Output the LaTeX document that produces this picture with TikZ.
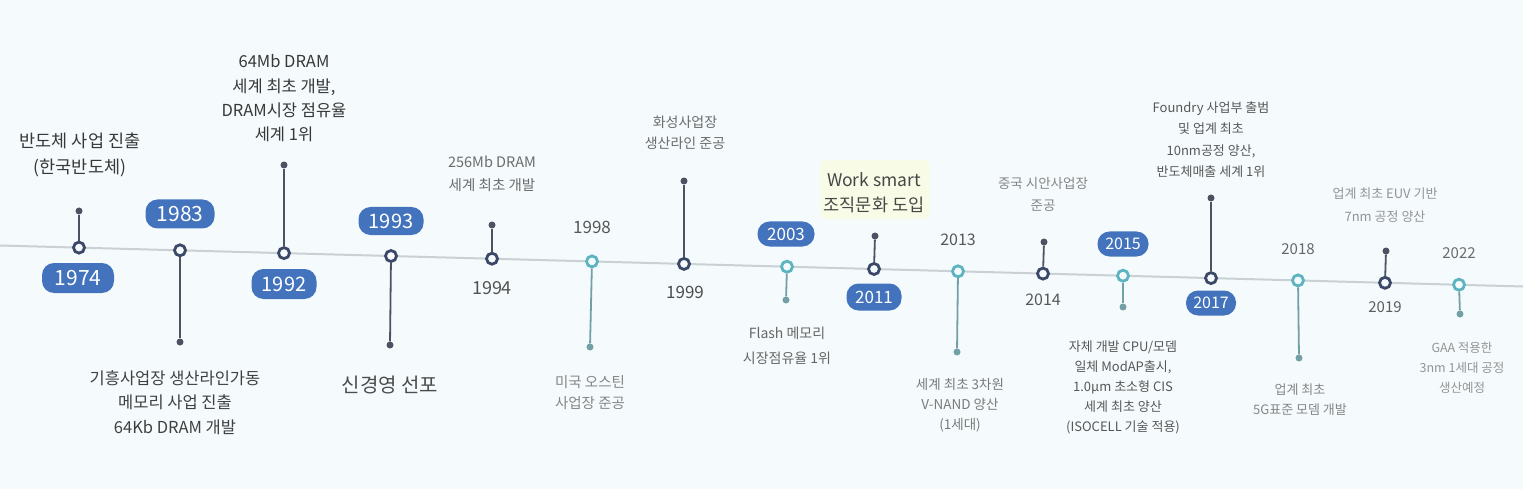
\documentclass[tikz,border=0pt]{standalone}
\usepackage{fontspec}
\setmainfont{Noto Sans CJK KR}
\newcommand\fsz[2]{\fontsize{#1}{#2}\selectfont}
\definecolor{cBg}{HTML}{F5FBFD}
\definecolor{cAxis}{HTML}{C9D1D5}
\definecolor{cNavy}{HTML}{3C4867}
\definecolor{cTeal}{HTML}{5DB3BF}
\definecolor{cBadge}{HTML}{4273BC}
\definecolor{cStemN}{HTML}{4C5262}
\definecolor{cStemT}{HTML}{73A0A6}
\definecolor{cHi}{HTML}{F8FBE6}
\tikzset{
  axisline/.style={draw=cAxis, line width=2pt},
  navyc/.style={circle, draw=cNavy, line width=2.8pt, fill=cBg, minimum size=11pt, inner sep=0pt},
  tealc/.style={circle, draw=cTeal, line width=2.8pt, fill=cBg, minimum size=11pt, inner sep=0pt},
  tipdot/.style={circle, fill=#1, minimum size=7pt, inner sep=0pt},
  stemline/.style={draw=#1, line width=1.8pt},
  badge/.style={rectangle, rounded corners=12pt, fill=cBadge, text=white, inner sep=0pt},
  lbl/.style={align=center, inner sep=0pt},
  yr/.style={inner sep=0pt},
}
\begin{document}
\begin{tikzpicture}[x=1pt,y=-1pt]
\useasboundingbox (0,0) rectangle (1523,489);
\fill[cBg] (0,0) rectangle (1523,489);
\fill[cHi, rounded corners=6pt] (820,160) rectangle (930,219);
\coordinate (L) at (0,245.5);
\coordinate (R) at (1523,286.5);
\draw[axisline] (L) -- (R);

% 1974
\node[tipdot=cStemN] (d74) at (79,211) {};
\node[navyc] (c74) at (79,247.6) {};
\draw[stemline=cStemN] (c74) -- (d74);
\node[badge, minimum width=72pt, minimum height=30pt, font=\fsz{21}{25}] (b74) at (78,278) {1974};
\node[lbl, font=\fsz{17.5}{26}, text=black!78] (t74) at (80,155) {반도체 사업 진출\\(한국반도체)};

% 1983
\node[tipdot=cStemN] (d83) at (180,342) {};
\node[navyc] (c83) at (180,250.3) {};
\draw[stemline=cStemN] (c83) -- (d83);
\node[badge, minimum width=69pt, minimum height=29pt, font=\fsz{21}{25}] (b83) at (180,214) {1983};
\node[lbl, font=\fsz{16.5}{24.5}, text=black!75] (t83) at (175,402.5) {기흥사업장 생산라인가동\\메모리 사업 진출\\64Kb DRAM 개발};

% 1992
\node[tipdot=cStemN] (d92) at (284,165) {};
\node[navyc] (c92) at (284,253.1) {};
\draw[stemline=cStemN] (c92) -- (d92);
\node[badge, minimum width=65pt, minimum height=30pt, font=\fsz{20}{24}] (b92) at (284,284) {1992};
\node[lbl, font=\fsz{16.5}{24.3}, text=black!78] (t92) at (284,98.5) {64Mb DRAM\\세계 최초 개발,\\DRAM시장 점유율\\세계 1위};

% 1993
\node[tipdot=cStemN] (d93) at (390,345) {};
\node[navyc] (c93) at (391,256) {};
\draw[stemline=cStemN] (c93) -- (d93);
\node[badge, minimum width=65pt, minimum height=28pt, font=\fsz{20}{24}] (b93) at (391,221) {1993};
\node[lbl, font=\fsz{20}{24}, text=black!70] (t93) at (390,385) {신경영 선포};

% 1994
\node[tipdot=cStemN] (d94) at (492,225) {};
\node[navyc] (c94) at (492,258.7) {};
\draw[stemline=cStemN] (c94) -- (d94);
\node[yr, font=\fsz{18}{22}, text=black!68] (y94) at (492,288) {1994};
\node[lbl, font=\fsz{14.5}{23}, text=black!58] (t94) at (492,173.5) {256Mb DRAM\\세계 최초 개발};

% 1998
\node[tipdot=cStemT] (d98) at (590,347) {};
\node[tealc] (c98) at (592,261.4) {};
\draw[stemline=cStemT] (c98) -- (d98);
\node[yr, font=\fsz{17}{21}, text=black!66] (y98) at (592,227) {1998};
\node[lbl, font=\fsz{14.5}{21}, text=black!48] (t98) at (590,392.5) {미국 오스틴\\사업장 준공};

% 1999
\node[tipdot=cStemN] (d99) at (684,181) {};
\node[navyc] (c99) at (684,263.9) {};
\draw[stemline=cStemN] (c99) -- (d99);
\node[yr, font=\fsz{17}{21}, text=black!70] (y99) at (685,292) {1999};
\node[lbl, font=\fsz{14}{21}, text=black!58] (t99) at (685,132.5) {화성사업장\\생산라인 준공};

% 2003
\node[tipdot=cStemT] (d03) at (786,300) {};
\node[tealc] (c03) at (787,266.7) {};
\draw[stemline=cStemT] (c03) -- (d03);
\node[badge, minimum width=57pt, minimum height=25pt, font=\fsz{17}{21}] (b03) at (786,234) {2003};
\node[lbl, font=\fsz{14}{25}, text=black!60] (t03) at (787,345.5) {Flash 메모리\\시장점유율 1위};

% 2011
\node[tipdot=cStemN] (d11) at (875,236) {};
\node[navyc] (c11) at (874,269) {};
\draw[stemline=cStemN] (c11) -- (d11);
\node[badge, minimum width=55pt, minimum height=27pt, font=\fsz{17}{21}] (b11) at (874,297) {2011};
\node[lbl, font=\fsz{17.5}{25.5}, text=black!72] (t11) at (874,192.5) {Work smart\\조직문화 도입};

% 2013
\node[tipdot=cStemT] (d13) at (957,352) {};
\node[tealc] (c13) at (958,271.3) {};
\draw[stemline=cStemT] (c13) -- (d13);
\node[yr, font=\fsz{16}{20}, text=black!66] (y13) at (958,240) {2013};
\node[lbl, font=\fsz{13.5}{20}, text=black!52] (t13) at (960,405) {세계 최초 3차원\\V-NAND 양산\\(1세대)};

% 2014
\node[tipdot=cStemN] (d14) at (1044,242) {};
\node[navyc] (c14) at (1043,273.6) {};
\draw[stemline=cStemN] (c14) -- (d14);
\node[yr, font=\fsz{16}{20}, text=black!66] (y14) at (1043,300) {2014};
\node[lbl, font=\fsz{13.5}{22}, text=black!48] (t14) at (1043,194) {중국 시안사업장\\준공};

% 2015
\node[tipdot=cStemT] (d15) at (1123,307) {};
\node[tealc] (c15) at (1123,275.7) {};
\draw[stemline=cStemT] (c15) -- (d15);
\node[badge, minimum width=51pt, minimum height=25pt, font=\fsz{16}{20}] (b15) at (1123,244) {2015};
\node[lbl, font=\fsz{13}{20}, text=black!66] (t15) at (1123,387) {자체 개발 CPU/모뎀\\일체 ModAP출시,\\1.0μm 초소형 CIS\\세계 최초 양산\\(ISOCELL 기술 적용)};

% 2017
\node[tipdot=cStemN] (d17) at (1211,198) {};
\node[navyc] (c17) at (1211,278.1) {};
\draw[stemline=cStemN] (c17) -- (d17);
\node[badge, minimum width=50pt, minimum height=25pt, font=\fsz{16}{20}] (b17) at (1211,303) {2017};
\node[lbl, font=\fsz{13}{21.5}, text=black!66] (t17) at (1211,139.5) {Foundry 사업부 출범\\및 업계 최초\\10nm공정 양산,\\반도체매출 세계 1위};

% 2018
\node[tipdot=cStemT] (d18) at (1299,358) {};
\node[tealc] (c18) at (1298,280.4) {};
\draw[stemline=cStemT] (c18) -- (d18);
\node[yr, font=\fsz{15}{19}, text=black!60] (y18) at (1298,249) {2018};
\node[lbl, font=\fsz{13}{20}, text=black!48] (t18) at (1300,400) {업계 최초\\5G표준 모뎀 개발};

% 2019
\node[tipdot=cStemN] (d19) at (1386,251) {};
\node[navyc] (c19) at (1385,282.8) {};
\draw[stemline=cStemN] (c19) -- (d19);
\node[yr, font=\fsz{15}{19}, text=black!64] (y19) at (1385,307) {2019};
\node[lbl, font=\fsz{13}{23}, text=black!42] (t19) at (1385,205) {업계 최초 EUV 기반\\7nm 공정 양산};

% 2022
\node[tipdot=cStemT] (d22) at (1460,314) {};
\node[tealc] (c22) at (1459,284.7) {};
\draw[stemline=cStemT] (c22) -- (d22);
\node[yr, font=\fsz{15}{19}, text=black!58] (y22) at (1459,253) {2022};
\node[lbl, font=\fsz{12.5}{20}, text=black!42] (t22) at (1462,367.5) {GAA 적용한\\3nm 1세대 공정\\생산예정};
\end{tikzpicture}
\end{document}
